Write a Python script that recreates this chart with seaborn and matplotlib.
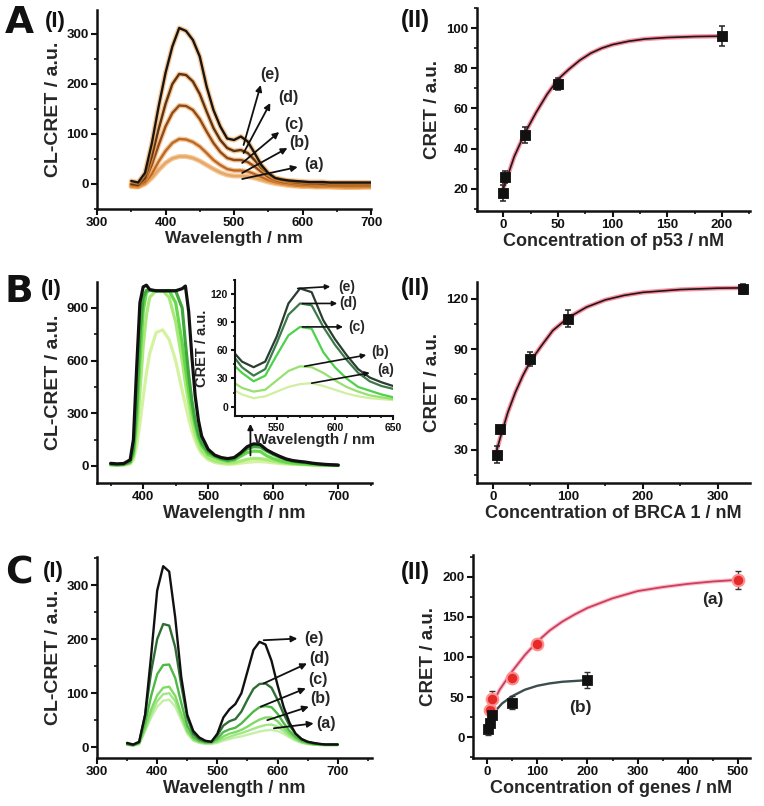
import numpy as np
import pandas as pd
import matplotlib
matplotlib.use("Agg")
import matplotlib.pyplot as plt
import seaborn as sns
from matplotlib.ticker import MultipleLocator

# ---------------- data ----------------
# Panel A(I): CL-CRET spectra (orange series)
wl_A = [350, 360, 370, 380, 390, 400, 410, 420, 430, 440, 450, 460, 470, 480, 490, 500,
        510, 520, 530, 540, 550, 560, 570, 580, 590, 600, 610, 620, 630, 640, 650, 660,
        670, 680, 690, 700]
A_a = [-5, -6, 0, 12, 28, 42, 51, 55, 55, 52, 46, 38, 30, 23, 18, 16, 16, 15, 12, 8, 4, 1,
       -1, -3, -4, -5, -5, -6, -6, -6, -7, -7, -7, -7, -6, -6]
A_b = [-4, -5, 2, 20, 45, 66, 82, 90, 89, 84, 75, 62, 48, 38, 30, 27, 27, 25, 20, 14, 8, 4,
       1, -1, -3, -4, -4, -5, -5, -5, -5, -6, -6, -6, -6, -6]
A_c = [-2, -4, 6, 38, 78, 115, 142, 157, 156, 148, 130, 105, 82, 64, 52, 48, 48, 44, 35, 24,
       14, 8, 4, 2, 0, -1, -2, -2, -2, -3, -3, -3, -3, -3, -3, -3]
A_d = [0, -2, 12, 55, 110, 160, 200, 220, 218, 205, 180, 145, 112, 88, 72, 66, 68, 62, 48,
       32, 20, 12, 8, 5, 3, 2, 1, 1, 0, 0, 0, 0, 0, 0, 0, 0]
A_e = [6, 3, 22, 81, 155, 222, 275, 312, 306, 288, 255, 195, 148, 115, 91, 88, 95, 85, 62,
       38, 22, 12, 9, 7, 6, 5, 4, 4, 4, 3, 3, 3, 3, 3, 3, 3]

# Panel A(II): p53
p53_x = [0, 2, 20, 50, 200]
p53_y = [18, 26, 47, 72, 96]
p53_err = [4, 3, 4, 3, 5]
p53_fit_x = [0, 5, 10, 20, 30, 40, 50, 60, 70, 80, 90, 100, 115, 130, 150, 175, 200]
p53_fit_y = [20, 28, 36, 48, 58, 67, 74.5, 79.5, 84, 87.5, 90, 91.8, 93.5, 94.6, 95.3, 95.8, 96]

# Panel B(I): CL-CRET spectra (green series)
wl_B = [350, 360, 370, 380, 385, 390, 395, 400, 405, 410, 420, 430, 440, 450, 460, 465, 470,
        475, 480, 485, 490, 500, 510, 520, 530, 540, 550, 560, 570, 580, 590, 600, 610, 620,
        630, 640, 650, 660, 670, 680, 690, 700]
B_a = [5, 4, 5, 12, 35, 110, 240, 390, 530, 640, 760, 775, 720, 600, 430, 350, 270, 200, 145,
       100, 70, 35, 20, 13, 9, 11, 16, 21, 24, 25, 22, 18, 14, 11, 9, 8, 7, 5, 4, 3, 3, 2]
B_b = [6, 5, 6, 15, 50, 180, 420, 680, 860, 960, 1000, 998, 960, 820, 600, 470, 360, 260, 180,
       125, 85, 45, 28, 20, 16, 18, 28, 38, 43, 42, 36, 28, 21, 16, 12, 10, 8, 6, 5, 4, 3, 3]
B_c = [8, 6, 8, 20, 70, 260, 600, 880, 990, 1000, 998, 998, 998, 930, 700, 560, 430, 320, 230,
       160, 115, 65, 48, 36, 27, 33, 55, 76, 85, 83, 58, 42, 30, 21, 17, 13, 10, 8, 6, 5, 4, 3]
B_d = [10, 8, 10, 25, 90, 350, 750, 960, 1000, 1000, 998, 998, 998, 998, 900, 700, 520, 370,
       260, 180, 130, 80, 58, 42, 33, 40, 68, 98, 110, 108, 85, 66, 50, 36, 27, 22, 19, 14, 10,
       7, 5, 4]
B_e = [15, 12, 14, 35, 150, 560, 930, 1020, 1030, 1005, 998, 998, 998, 998, 1010, 1025, 880,
       620, 400, 260, 170, 95, 62, 48, 42, 48, 75, 110, 126, 122, 92, 72, 55, 40, 31, 26, 22,
       16, 12, 9, 7, 5]

# Panel B(II): BRCA 1
brca_x = [5, 10, 50, 100, 333]
brca_y = [27, 42, 84, 108, 126]
brca_err = [5, 2, 4, 5, 3]
brca_fit_x = [5, 10, 20, 30, 40, 50, 65, 80, 100, 125, 150, 175, 200, 250, 300, 333]
brca_fit_y = [29, 37, 52, 64, 74, 82.5, 92, 101, 108.5, 115, 119.3, 122, 123.8, 125.5, 126.3,
              126.5]

# Panel C(I): CL-CRET spectra (green series, two bands)
wl_C = wl_A
C_0 = [5, 3, 6, 30, 55, 75, 86, 88, 75, 50, 25, 12, 8, 6, 6, 8, 12, 15, 18, 20, 23, 26, 29,
       31, 32, 30, 25, 18, 12, 8, 6, 5, 4, 4, 4, 4]
C_a = [5, 3, 6, 32, 62, 85, 98, 100, 85, 56, 28, 14, 9, 7, 7, 10, 15, 19, 23, 26, 30, 34, 38,
       41, 42, 38, 30, 21, 14, 9, 6, 5, 4, 4, 4, 4]
C_b = [5, 3, 7, 36, 70, 96, 110, 112, 95, 62, 31, 15, 10, 8, 8, 12, 20, 25, 28, 32, 38, 45,
       51, 55, 55, 48, 36, 25, 16, 10, 7, 5, 5, 4, 4, 4]
C_c = [6, 4, 8, 45, 95, 135, 152, 153, 128, 82, 40, 19, 12, 9, 9, 16, 28, 33, 36, 44, 55, 66,
       74, 76, 74, 62, 45, 30, 19, 12, 8, 6, 5, 5, 5, 5]
C_d = [6, 4, 9, 60, 140, 200, 228, 225, 185, 115, 55, 25, 15, 11, 10, 22, 40, 48, 52, 66, 88,
       108, 117, 118, 110, 88, 62, 40, 25, 15, 10, 7, 6, 5, 5, 5]
C_e = [8, 5, 10, 60, 170, 290, 335, 325, 240, 130, 60, 30, 18, 12, 10, 25, 55, 70, 80, 100,
       140, 180, 195, 190, 160, 115, 75, 45, 25, 15, 10, 8, 6, 5, 5, 5]

# Panel C(II): genes
gene_a_x = [5, 10, 50, 100, 500]
gene_a_y = [34, 47, 74, 116, 196]
gene_a_err = [6, 10, 6, 6, 11]
gene_a_fit_x = [5, 10, 25, 50, 75, 100, 125, 150, 175, 200, 250, 300, 350, 400, 450, 500]
gene_a_fit_y = [35, 41, 59, 82, 102, 119, 133, 144, 153, 161, 173, 182, 187, 191, 194, 196]
gene_b_x = [2, 5, 10, 50, 200]
gene_b_y = [10, 17, 27, 43, 71]
gene_b_err = [7, 5, 4, 8, 10]
gene_b_fit_x = [5, 10, 20, 30, 50, 75, 100, 125, 150, 175, 200]
gene_b_fit_y = [20, 26, 35, 42, 51, 59, 64, 67, 69, 70, 71]

curve_labels = ["(a)", "(b)", "(c)", "(d)", "(e)"]

# ---------------- style ----------------
sns.set_theme(style="ticks")
plt.rcParams['font.family'] = ['Liberation Sans', 'DejaVu Sans']
plt.rcParams['font.weight'] = 'bold'
plt.rcParams['axes.labelweight'] = 'bold'
plt.rcParams['axes.linewidth'] = 1.8

W, H = 764, 806
fig = plt.figure(figsize=(W / 100, H / 100), dpi=100)
TICK = 9.5
XLAB = 12.5
YLAB = 13.5


def add_ax(l, r, t, b):
    return fig.add_axes([l / W, 1 - b / H, (r - l) / W, (b - t) / H])


def style(ax, xmaj, xmin, ymaj, ymin, lsize=TICK, lw=1.8):
    for s in ['top', 'right']:
        ax.spines[s].set_visible(False)
    for s in ['left', 'bottom']:
        ax.spines[s].set_linewidth(lw)
        ax.spines[s].set_color('#111111')
    ax.xaxis.set_major_locator(MultipleLocator(xmaj))
    ax.xaxis.set_minor_locator(MultipleLocator(xmin))
    ax.yaxis.set_major_locator(MultipleLocator(ymaj))
    ax.yaxis.set_minor_locator(MultipleLocator(ymin))
    ax.tick_params(which='major', direction='out', length=4, width=1.5,
                   labelsize=lsize, pad=2, colors='#111111')
    ax.tick_params(which='minor', direction='out', length=2.5, width=1.2, colors='#111111')
    for lbl in ax.get_xticklabels() + ax.get_yticklabels():
        lbl.set_fontweight('bold')


def arrow(ax, start, end, lw=1.3, ms=9):
    ax.annotate('', xy=end, xytext=start,
                arrowprops=dict(arrowstyle='-|>', color='#111111', lw=lw,
                                mutation_scale=ms, shrinkA=0, shrinkB=0),
                annotation_clip=False)


def line(ax, x, y, color, lw, halo=None, hlw=None, alpha=1.0):
    if halo is not None:
        sns.lineplot(x=x, y=y, ax=ax, color=halo, lw=hlw, alpha=0.55,
                     estimator=None, sort=False, legend=False)
    sns.lineplot(x=x, y=y, ax=ax, color=color, lw=lw, alpha=alpha,
                 estimator=None, sort=False, legend=False)


# ---------------- A(I) ----------------
ax = add_ax(97, 371, 10, 209)
A_cols = ['#e3a86c', '#b86a2c', '#8e4c1e', '#5c3416', '#161616']
for ys, c in zip([A_a, A_b, A_c, A_d, A_e], A_cols):
    line(ax, wl_A, ys, c, 1.7, halo='#f59a3a', hlw=3.6)
ax.set_xlim(300, 700)
ax.set_ylim(-50, 348)
style(ax, 100, 50, 100, 50)
ax.set_xlabel('Wavelength / nm', fontsize=XLAB, labelpad=1)
ax.set_ylabel('CL-CRET / a.u.', fontsize=YLAB + 0.5, labelpad=3)
A_arrows = [((512, 10), (593, 34), (617, 38)),
            ((512, 22), (578, 72), (596, 83)),
            ((512, 42), (566, 104), (588, 119)),
            ((514, 62), (553, 162), (580, 173)),
            ((514, 78), (539, 198), (553, 219))]
for (s, e, t), lab in zip(A_arrows, curve_labels):
    arrow(ax, s, e)
    ax.text(t[0], t[1], lab, fontsize=11.5, fontweight='bold', ha='center', va='center')

# ---------------- A(II) ----------------
ax = add_ax(477, 750, 8, 211)
line(ax, p53_fit_x, p53_fit_y, '#1a1a1a', 1.2, halo='#ff3050', hlw=3.2)
ax.errorbar(p53_x, p53_y, yerr=p53_err, fmt='none', ecolor='#222222', elinewidth=1.1,
            capsize=2, capthick=1.1)
sns.scatterplot(x=p53_x, y=p53_y, ax=ax, marker='s', color='#111111', s=60,
                edgecolor='#111111', legend=False, zorder=5)
ax.set_xlim(-24, 225.6)
ax.set_ylim(9, 110)
style(ax, 50, 25, 20, 10)
ax.set_xlabel('Concentration of p53 / nM', fontsize=XLAB + 0.5, labelpad=1)
ax.set_ylabel('CRET / a.u.', fontsize=YLAB, labelpad=4)

# ---------------- B(I) ----------------
ax = add_ax(97, 372, 282, 483)
B_cols = ['#d5f2a0', '#a8ea7a', '#66d84a', '#3fa83c', '#111111']
for ys, c in zip([B_a, B_b, B_c, B_d, B_e], B_cols):
    line(ax, wl_B, ys, c, 2.3)
ax.set_xlim(329, 752)
ax.set_ylim(-97, 1048)
style(ax, 100, 50, 300, 150)
ax.set_xlabel('Wavelength / nm', fontsize=XLAB + 0.5, labelpad=1)
ax.set_ylabel('CL-CRET / a.u.', fontsize=YLAB + 0.5, labelpad=3)
arrow(ax, (565, 60), (565, 240), lw=1.3, ms=8)

# inset
axi = add_ax(235, 393, 280, 416)
Bi_cols = ['#d0efa0', '#98e070', '#4ed24a', '#3b7a48', '#2a3d30']
for ys, c in zip([B_a, B_b, B_c, B_d, B_e], Bi_cols):
    line(axi, wl_B, ys, c, 1.6)
axi.set_xlim(514, 650)
axi.set_ylim(-10, 135)
axi.patch.set_alpha(0)
style(axi, 50, 10, 30, 15, lsize=7.5, lw=1.5)
axi.tick_params(which='major', length=3)
axi.tick_params(which='minor', length=1.5)
axi.set_xlabel('Wavelength / nm', fontsize=11, labelpad=0)
axi.set_ylabel('CRET / a.u.', fontsize=10.5, labelpad=1)
Bi_arrows = [((580, 25), (630, 36), (644, 39)),
             ((574, 43), (627, 55), (639, 58)),
             ((572, 85), (607, 85), (619, 85)),
             ((572, 110), (602, 110), (611, 110)),
             ((568, 126), (596, 128), (610, 128))]
for (s, e, t), lab in zip(Bi_arrows, curve_labels):
    arrow(axi, s, e, lw=1.2, ms=7)
    axi.text(t[0], t[1], lab, fontsize=10, fontweight='bold', ha='center', va='center')

# ---------------- B(II) ----------------
ax = add_ax(477, 750, 282, 483)
line(ax, brca_fit_x, brca_fit_y, '#1a1a1a', 1.2, halo='#ff3050', hlw=3.2)
ax.errorbar(brca_x, brca_y, yerr=brca_err, fmt='none', ecolor='#222222', elinewidth=1.1,
            capsize=2, capthick=1.1)
sns.scatterplot(x=brca_x, y=brca_y, ax=ax, marker='s', color='#111111', s=60,
                edgecolor='#111111', legend=False, zorder=5)
ax.set_xlim(-21, 343)
ax.set_ylim(10, 130)
style(ax, 100, 50, 30, 15)
ax.set_xlabel('Concentration of BRCA 1 / nM', fontsize=XLAB + 0.5, labelpad=1)
ax.set_ylabel('CRET / a.u.', fontsize=YLAB, labelpad=4)

# ---------------- C(I) ----------------
ax = add_ax(97, 372, 557, 758)
C_cols = ['#c4f0a8', '#a2e888', '#7fdc62', '#4fb846', '#2f6e34', '#111111']
for ys, c in zip([C_0, C_a, C_b, C_c, C_d, C_e], C_cols):
    line(ax, wl_C, ys, c, 1.7)
ax.set_xlim(300, 757)
ax.set_ylim(-20, 352)
style(ax, 100, 50, 100, 50)
ax.set_xlabel('Wavelength / nm', fontsize=XLAB + 0.5, labelpad=1)
ax.set_ylabel('CL-CRET / a.u.', fontsize=YLAB + 0.5, labelpad=3)
C_arrows = [((594, 35), (660, 44), (680, 43)),
            ((583, 50), (652, 75), (672, 91)),
            ((572, 75), (647, 109), (667, 126)),
            ((577, 118), (649, 155), (669, 165)),
            ((577, 198), (633, 201), (660, 201))]
for (s, e, t), lab in zip(C_arrows, curve_labels):
    arrow(ax, s, e)
    ax.text(t[0], t[1], lab, fontsize=11.5, fontweight='bold', ha='center', va='center')

# ---------------- C(II) ----------------
ax = add_ax(473, 750, 555, 758)
line(ax, gene_a_fit_x, gene_a_fit_y, '#c8405e', 1.3, halo='#ff8aa0', hlw=3.0)
line(ax, gene_b_fit_x, gene_b_fit_y, '#3d4c4c', 1.7)
ax.errorbar(gene_a_x, gene_a_y, yerr=gene_a_err, fmt='none', ecolor='#333333',
            elinewidth=1.0, capsize=2, capthick=1.0)
ax.errorbar(gene_b_x, gene_b_y, yerr=gene_b_err, fmt='none', ecolor='#333333',
            elinewidth=1.0, capsize=2, capthick=1.0)
sns.scatterplot(x=gene_a_x, y=gene_a_y, ax=ax, marker='o', color='#e52a2a', s=70,
                edgecolor='#ff9090', linewidth=1.5, legend=False, zorder=5)
sns.scatterplot(x=gene_b_x, y=gene_b_y, ax=ax, marker='s', color='#111111', s=50,
                edgecolor='#111111', legend=False, zorder=5)
ax.set_xlim(-28, 524)
ax.set_ylim(-26, 227)
style(ax, 100, 50, 50, 25)
ax.set_xlabel('Concentration of genes / nM', fontsize=XLAB + 0.5, labelpad=1)
ax.set_ylabel('CRET / a.u.', fontsize=YLAB, labelpad=4)
ax.text(450, 171, '(a)', fontsize=12.5, fontweight='bold', ha='center', va='center')
ax.text(185, 37, '(b)', fontsize=12.5, fontweight='bold', ha='center', va='center')

# ---------------- panel labels ----------------
def ftext(x, y, s, size, fam=None):
    kw = dict(fontsize=size, fontweight='bold', ha='left', va='center', color='#111111')
    if fam:
        kw['family'] = fam
    fig.text(x / W, 1 - y / H, s, **kw)

ftext(5, 23, 'A', 27, ['DejaVu Sans'])
ftext(45, 22, '(I)', 16)
ftext(401, 21, '(II)', 17)
ftext(5, 292, 'B', 27, ['DejaVu Sans'])
ftext(41, 290, '(I)', 16)
ftext(401, 288, '(II)', 17)
ftext(5, 574, 'C', 27, ['DejaVu Sans'])
ftext(43, 571, '(I)', 16)
ftext(401, 572, '(II)', 17)

fig.savefig('out.png', dpi=100)
